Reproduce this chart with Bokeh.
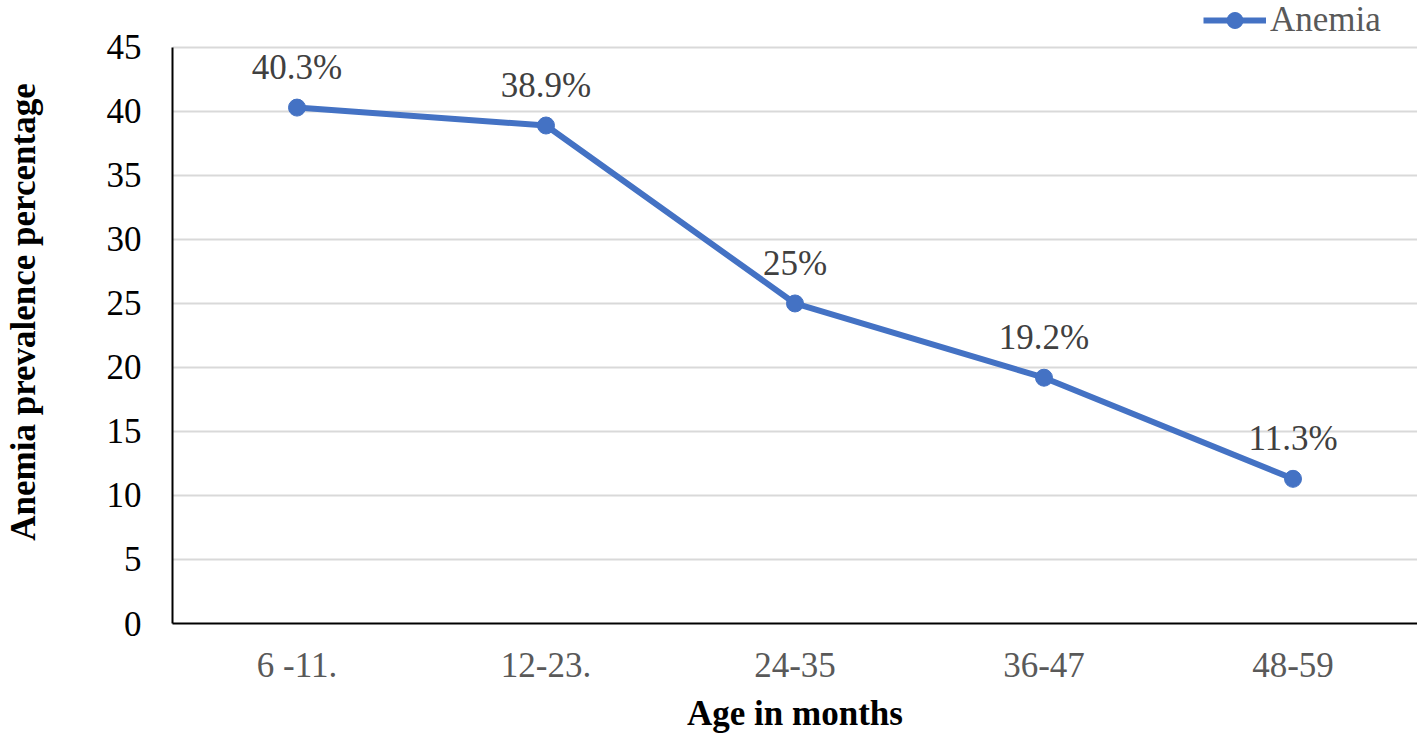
from bokeh.plotting import figure
from bokeh.models import FactorRange, Range1d, Legend, LegendItem, ColumnDataSource, FixedTicker
from bokeh.core.properties import value
from bokeh.embed import file_html
from bokeh.resources import INLINE

age_groups = ["6 -11.", "12-23.", "24-35", "36-47", "48-59"]
anemia = [40.3, 38.9, 25.0, 19.2, 11.3]
labels = ["40.3%", "38.9%", "25%", "19.2%", "11.3%"]
y_ticks = [0, 5, 10, 15, 20, 25, 30, 35, 40, 45]

FONT = "Liberation Serif"
BLUE = "#4472C4"
FS = "35px"

# frame spans to the top of the figure so the legend can sit above the 45 line
FRAME_H = 624
Y_MAX = 45
Y_TOP = Y_MAX * FRAME_H / 577.0

src = ColumnDataSource(dict(x=age_groups, y=anemia, lab=labels))

p = figure(width=1417, height=735, x_range=FactorRange(*age_groups, range_padding=0),
           y_range=Range1d(0, Y_TOP), output_backend="svg", toolbar_location=None,
           min_border_left=171, min_border_right=0, min_border_top=0, min_border_bottom=111)
p.outline_line_color = None
p.background_fill_color = "white"

p.xgrid.grid_line_color = None
p.ygrid.grid_line_color = "#d9d9d9"
p.ygrid.grid_line_width = 2
p.yaxis.ticker = FixedTicker(ticks=y_ticks)
p.yaxis.bounds = (0, Y_MAX)

for ax in (p.xaxis, p.yaxis):
    ax.axis_line_color = "black"
    ax.axis_line_width = 2
    ax.major_tick_line_color = None
    ax.minor_tick_line_color = None
    ax.major_tick_out = 0
    ax.major_tick_in = 0
    ax.minor_tick_out = 0
    ax.major_label_text_font = FONT
    ax.major_label_text_font_size = FS
    ax.axis_label_text_font = FONT
    ax.axis_label_text_font_size = FS
    ax.axis_label_text_font_style = "bold"
    ax.axis_label_text_color = "black"

p.yaxis.major_label_text_color = "black"
p.xaxis.major_label_text_color = "#595959"
p.xaxis.major_label_standoff = 22
p.yaxis.major_label_standoff = 31
p.xaxis.axis_label = "Age in months"
p.yaxis.axis_label = "Anemia prevalence percentage"
p.xaxis.axis_label_standoff = 6
p.yaxis.axis_label_standoff = 61
p.yaxis.axis_label_text_line_height = 0.8

ln = p.line("x", "y", source=src, line_color=BLUE, line_width=6)
sc = p.scatter("x", "y", source=src, size=17, fill_color=BLUE, line_color=BLUE)

p.text("x", "y", text="lab", source=src, text_font=value(FONT), text_font_size=FS,
       text_color="#404040", text_align="center", text_baseline="alphabetic", y_offset=-40)

legend = Legend(items=[LegendItem(label="Anemia", renderers=[ln, sc])],
                location=(1031, 583), orientation="horizontal",
                glyph_width=63, glyph_height=40, label_standoff=4,
                label_text_font=FONT, label_text_font_size=FS,
                label_text_color="#595959", padding=0, margin=0, spacing=0,
                border_line_color=None, background_fill_alpha=0)
p.add_layout(legend, "center")

open("out.html", "w").write(file_html(p, INLINE))
